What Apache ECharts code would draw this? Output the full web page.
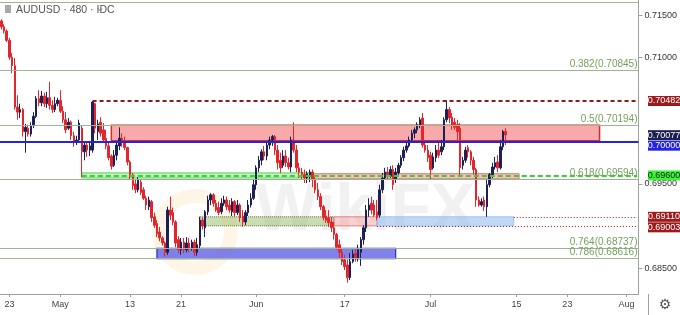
<!DOCTYPE html>
<html><head><meta charset="utf-8">
<script src="https://cdn.jsdelivr.net/npm/echarts@6/dist/echarts.min.js"></script>
<style>html,body{margin:0;padding:0;background:#fff;}#c{width:680px;height:315px;}</style>
</head><body><div id="c"></div>
<script>
// AUDUSD 8h candles (Apr 22 - Jul 12, 2019)
const opens = [
.7143,.7136,.7131,.7120,.7100,.7090,.7041,.7035,.7038,.7012,
.7016,.7009,.7019,.7030,.7051,.7046,.7054,.7045,.7052,.7043,
.7038,.7045,.7049,.7036,.7026,.7016,.7023,.7007,.6999,.7002,
.7016,.6988,.6996,.6990,.6990,.7045,.7012,.7023,.7014,.7004,
.6995,.6983,.6972,.6984,.6995,.7004,.7001,.6993,.6976,.6961,
.6950,.6943,.6952,.6943,.6933,.6923,.6929,.6911,.6903,.6893,
.6886,.6880,.6869,.6919,.6916,.6905,.6884,.6872,.6881,.6872,
.6880,.6874,.6881,.6869,.6877,.6907,.6898,.6917,.6931,.6937,
.6927,.6922,.6917,.6927,.6931,.6925,.6917,.6929,.6916,.6925,
.6912,.6905,.6916,.6925,.6933,.6949,.6969,.6978,.6988,.6983,
.6996,.7002,.7006,.6990,.6978,.6972,.6983,.6975,.6970,.7002,
.6990,.6969,.6964,.6961,.6957,.6959,.6964,.6955,.6943,.6935,
.6923,.6912,.6910,.6905,.6898,.6890,.6878,.6869,.6860,.6854,
.6839,.6858,.6868,.6862,.6869,.6884,.6898,.6919,.6927,.6925,
.6917,.6913,.6943,.6957,.6964,.6959,.6967,.6955,.6963,.6972,
.6981,.6990,.6995,.7002,.7010,.7014,.7020,.7028,.6996,.6990,
.6984,.6969,.6981,.6990,.6988,.6994,.7026,.7038,.7029,.7023,
.7020,.7016,.6972,.6978,.6993,.6988,.6978,.6967,.6931,.6925,
.6931,.6923,.6949,.6961,.6970,.6976,.6969,.6994,.7012];
const closes = [
.7136,.7131,.7120,.7100,.7090,.7041,.7035,.7038,.7012,.7017,
.7009,.7019,.7030,.7051,.7046,.7054,.7045,.7052,.7043,.7038,
.7045,.7049,.7036,.7026,.7014,.7023,.7007,.6999,.7002,.7022,
.6988,.6996,.6990,.6995,.7047,.7016,.7021,.7010,.7002,.6995,
.6981,.6971,.6984,.6996,.7004,.6999,.6993,.6976,.6961,.6948,
.6943,.6955,.6940,.6933,.6925,.6931,.6910,.6901,.6891,.6886,
.6880,.6869,.6919,.6913,.6905,.6880,.6872,.6881,.6872,.6880,
.6874,.6881,.6869,.6878,.6907,.6900,.6917,.6931,.6937,.6927,
.6919,.6916,.6927,.6931,.6923,.6919,.6929,.6916,.6925,.6910,
.6905,.6916,.6925,.6933,.6949,.6969,.6978,.6988,.6983,.6996,
.7002,.7006,.6990,.6975,.6969,.6983,.6975,.6970,.7002,.6990,
.6969,.6964,.6961,.6957,.6962,.6964,.6955,.6943,.6935,.6923,
.6910,.6907,.6904,.6898,.6890,.6875,.6869,.6858,.6852,.6839,
.6858,.6867,.6862,.6872,.6884,.6898,.6919,.6925,.6919,.6913,
.6910,.6943,.6957,.6964,.6961,.6967,.6949,.6964,.6972,.6981,
.6990,.6995,.7002,.7010,.7014,.7020,.7026,.6996,.6990,.6981,
.6967,.6982,.6990,.6984,.6994,.7026,.7038,.7028,.7020,.7017,
.7012,.6969,.6978,.6990,.6988,.6978,.6967,.6931,.6925,.6929,
.6923,.6949,.6961,.6970,.6975,.6969,.6994,.7012,.7008];
const lows = [
.7133,.7128,.7118,.7097,.7081,.7038,.7026,.7028,.7006,.6987,
.7006,.7006,.7016,.7028,.7042,.7042,.7041,.7040,.7038,.7034,
.7035,.7042,.7034,.7022,.7010,.7014,.7002,.6994,.6996,.7001,
.6958,.6978,.6982,.6983,.6987,.7010,.7002,.7006,.6999,.6991,
.6978,.6967,.6970,.6978,.6990,.6994,.6990,.6972,.6955,.6943,
.6939,.6940,.6937,.6931,.6919,.6919,.6905,.6898,.6887,.6882,
.6877,.6864,.6866,.6907,.6901,.6875,.6868,.6866,.6868,.6869,
.6869,.6871,.6864,.6865,.6874,.6896,.6887,.6913,.6925,.6923,
.6917,.6913,.6914,.6924,.6919,.6916,.6912,.6911,.6913,.6905,
.6899,.6901,.6912,.6922,.6931,.6943,.6964,.6972,.6978,.6978,
.6991,.6995,.6984,.6967,.6963,.6969,.6970,.6967,.6964,.6987,
.6964,.6957,.6955,.6951,.6951,.6952,.6946,.6939,.6931,.6919,
.6907,.6904,.6899,.6893,.6884,.6872,.6862,.6854,.6848,.6833,
.6836,.6856,.6858,.6858,.6853,.6878,.6893,.6911,.6914,.6911,
.6907,.6910,.6939,.6955,.6955,.6957,.6943,.6951,.6961,.6969,
.6977,.6987,.6993,.6999,.7004,.7010,.7016,.6993,.6987,.6976,
.6955,.6967,.6976,.6981,.6984,.6990,.7023,.7022,.7014,.7014,
.7002,.6958,.6967,.6975,.6981,.6972,.6961,.6923,.6923,.6923,
.6918,.6911,.6946,.6957,.6967,.6964,.6967,.6990,.6996];
const highs = [
.7145,.7139,.7133,.7123,.7105,.7099,.7055,.7045,.7040,.7021,
.7020,.7023,.7035,.7054,.7061,.7060,.7058,.7059,.7071,.7049,
.7053,.7052,.7061,.7042,.7035,.7028,.7025,.7012,.7007,.7026,
.7019,.7000,.7000,.6999,.7048,.7046,.7026,.7029,.7022,.7014,
.6999,.6985,.6990,.6999,.7017,.7010,.7006,.6994,.6978,.6963,
.6955,.6958,.6955,.6946,.6936,.6935,.6931,.6916,.6907,.6899,
.6888,.6882,.6923,.6935,.6922,.6907,.6888,.6886,.6886,.6887,
.6886,.6884,.6884,.6886,.6911,.6910,.6919,.6936,.6939,.6939,
.6931,.6929,.6933,.6936,.6935,.6931,.6933,.6931,.6931,.6927,
.6919,.6919,.6931,.6939,.6955,.6972,.6983,.6991,.6995,.7000,
.7006,.7008,.7008,.6996,.6987,.6990,.6990,.6981,.7006,.7023,
.6996,.6975,.6969,.6967,.6965,.6967,.6967,.6958,.6951,.6939,
.6925,.6919,.6919,.6911,.6905,.6892,.6884,.6874,.6866,.6860,
.6868,.6872,.6874,.6878,.6887,.6901,.6925,.6933,.6935,.6931,
.6931,.6949,.6963,.6969,.6970,.6971,.6972,.6969,.6975,.6984,
.6994,.7000,.7006,.7014,.7017,.7023,.7029,.7034,.6999,.6996,
.6988,.6987,.6996,.6999,.7002,.7029,.7049,.7041,.7034,.7028,
.7026,.7022,.6982,.6994,.6996,.6990,.6982,.6969,.6935,.6933,
.6935,.6955,.6963,.6975,.6982,.6984,.7002,.7014,.7016];

// x-axis tick labels (first bar of the date)
const tickDates = ['2019-04-23','2019-05-01','2019-05-13','2019-05-21','2019-06-02','2019-06-17','2019-07-01','2019-07-15','2019-07-23','2019-08-01'];
const tickTexts = ['23','May','13','21','Jun','17','Jul','15','23','Aug'];
// y-axis tick labels that are visible
const yTickValues = [0.715, 0.710, 0.695, 0.685];
// fibonacci levels
const fibLevels = [0.71655, 0.70845, 0.70194, 0.6956, 0.68737, 0.68616];
const fibLabels = ['', '0.382(0.70845)', '0.5(0.70194)', '0.618(0.69594)', '0.764(0.68737)', '0.786(0.68616)'];
// price tags on the right
const tagValues = [0.70482, 0.70077, 0.70000, 0.69600, 0.69110, 0.69003];
const tagBg = ['#9c1a1c', '#1d1f4e', '#2222e2', '#3ff03f', '#9c1a1c', '#9c1a1c'];
const tagFg = ['#fff', '#fff', '#fff', '#0b2a0b', '#fff', '#fff'];

// bar calendar: Sunday 1 bar, Mon-Fri 3 bars of 8 hours
const NBARS = 238;
const categories = [];
let d = new Date(Date.UTC(2019, 3, 22));
while (categories.length < NBARS) {
  const wd = d.getUTCDay();
  const ds = d.toISOString().slice(0, 10);
  if (wd === 0) categories.push(ds + ' 16:00');
  else if (wd !== 6) categories.push(ds + ' 00:00', ds + ' 08:00', ds + ' 16:00');
  d = new Date(d.getTime() + 86400000);
}
categories.length = NBARS;
const tickAt = {};
tickDates.forEach((td, k) => {
  const idx = categories.findIndex(c => c.slice(0, 10) === td);
  if (idx >= 0) tickAt[idx] = tickTexts[k];
});
const isTick = (i) => tickAt[i] !== undefined;

const ohlc = opens.map((o, i) => [o, closes[i], lows[i], highs[i]]);
const LAST = NBARS - 1;

const fibLines = fibLevels.map((v, k) => ({
  yAxis: v,
  lineStyle: { color: '#9db592', width: 1.2, type: 'solid' },
  label: { show: !!fibLabels[k], formatter: fibLabels[k], position: 'insideEndTop', color: '#74a05c', fontSize: 10, distance: 1, fontFamily: 'Liberation Sans' }
}));

const chart = echarts.init(document.getElementById('c'), null, { renderer: 'canvas' });
chart.setOption({
  animation: false,
  backgroundColor: '#ffffff',
  grid: { left: 0, right: 32, top: 0, bottom: 21, containLabel: false },
  xAxis: {
    type: 'category', data: categories, boundaryGap: true,
    axisLine: { lineStyle: { color: '#a0a0a0' } },
    axisTick: { show: true, alignWithLabel: true, interval: (i) => isTick(i), length: 3, lineStyle: { color: '#a0a0a0' } },
    axisLabel: { interval: (i) => isTick(i), formatter: (v, i) => tickAt[i] || '', fontSize: 9, color: '#444', margin: 6, fontFamily: 'Liberation Sans' },
    splitLine: { show: false }
  },
  yAxis: {
    type: 'value', position: 'right', min: 0.68196, max: 0.71678,
    axisLine: { show: true, lineStyle: { color: '#a0a0a0' } },
    splitLine: { show: false },
    axisTick: { show: true, customValues: yTickValues, length: 4, lineStyle: { color: '#a0a0a0' } },
    axisLabel: { customValues: yTickValues, formatter: (v) => v.toFixed(5), fontSize: 9, color: '#333', margin: 6, fontFamily: 'Liberation Sans' }
  },
  series: [{
    type: 'candlestick',
    data: ohlc,
    barWidth: 2,
    z: 3,
    itemStyle: { color: '#1d1f55', color0: '#e4262c', borderColor: '#1d1f55', borderColor0: '#e4262c', borderWidth: 1 },
    markArea: {
      silent: true,
      precision: 6,
      data: [
        [{ xAxis: 41, yAxis: 0.70194, itemStyle: { color: 'rgba(242,100,100,0.55)', borderColor: '#e02828', borderWidth: 1.5 } }, { xAxis: 223, yAxis: 0.70012 }],
        [{ xAxis: 30, yAxis: 0.6963, itemStyle: { color: 'rgba(120,230,110,0.45)', borderColor: '#5ccc5c', borderWidth: 1 } }, { xAxis: 116, yAxis: 0.6957 }],
        [{ xAxis: 116, yAxis: 0.6962, itemStyle: { color: 'rgba(240,120,120,0.45)', borderColor: '#e46a6a', borderWidth: 1 } }, { xAxis: 193, yAxis: 0.6956 }],
        [{ xAxis: 74, yAxis: 0.6911, itemStyle: { color: 'rgba(150,185,100,0.5)', borderColor: '#5d6a35', borderWidth: 1, borderType: 'dotted' } }, { xAxis: 124, yAxis: 0.69003 }],
        [{ xAxis: 124, yAxis: 0.6911, itemStyle: { color: 'rgba(240,150,150,0.45)', borderColor: '#e08080', borderWidth: 1 } }, { xAxis: 140, yAxis: 0.69003 }],
        [{ xAxis: 140, yAxis: 0.6911, itemStyle: { color: 'rgba(150,190,240,0.6)', borderColor: '#a0c2ee', borderWidth: 1 } }, { xAxis: 191, yAxis: 0.69003 }],
        [{ xAxis: 58, yAxis: 0.68737, itemStyle: { color: 'rgba(80,80,232,0.72)', borderColor: '#2b2bc9', borderWidth: 1.2 } }, { xAxis: 147, yAxis: 0.68616 }]
      ]
    },
    markLine: {
      silent: true, symbol: ['none', 'none'], animation: false, precision: 6,
      data: fibLines.concat([
        { yAxis: 0.70000, lineStyle: { color: '#2323e2', width: 2, type: 'solid' }, label: { show: false } },
        [{ xAxis: 34, yAxis: 0.70482, lineStyle: { color: '#8e1a1a', width: 2, type: [4, 3] }, label: { show: false } }, { xAxis: LAST, yAxis: 0.70482 }],
        [{ xAxis: 30, yAxis: 0.69600, lineStyle: { color: '#34d234', width: 2, type: [5, 3] }, label: { show: false } }, { xAxis: LAST, yAxis: 0.69600 }],
        [{ xAxis: 191, yAxis: 0.69110, lineStyle: { color: '#a01818', width: 1, type: [1, 2] }, label: { show: false } }, { xAxis: LAST, yAxis: 0.69110 }],
        [{ xAxis: 140, yAxis: 0.69003, lineStyle: { color: '#a01818', width: 1, type: [1, 2] }, label: { show: false } }, { xAxis: LAST, yAxis: 0.69003 }]
      ])
    }
  }]
});

// overlays: price tags, title, watermark, gear
const g = [];
let prevY = -100;
tagValues.forEach((v, k) => {
  let y = chart.convertToPixel({ yAxisIndex: 0 }, v);
  if (y < prevY + 10.5) y = prevY + 10.5;
  prevY = y;
  g.push({ type: 'rect', z: 100, shape: { x: 648, y: y - 5, width: 32, height: 10 }, style: { fill: tagBg[k] } });
  g.push({ type: 'text', z: 101, x: 664, y: y, style: { text: v.toFixed(5), fill: tagFg[k], fontSize: 9, fontFamily: 'Liberation Sans', align: 'center', verticalAlign: 'middle' } });
});
g.push({ type: 'line', z: 100, shape: { x1: 648.5, y1: 294, x2: 648.5, y2: 315 }, style: { stroke: '#a0a0a0', lineWidth: 1 } });
g.push({ type: 'text', z: 100, x: 665, y: 305, style: { text: '⚙', fill: '#555', fontSize: 14, fontFamily: 'DejaVu Sans', align: 'center', verticalAlign: 'middle' } });
g.push({ type: 'rect', z: 100, shape: { x: 5, y: 5, width: 6, height: 8 }, style: { fill: '#a8a8a8' } });
g.push({ type: 'text', z: 100, x: 16, y: 10, style: { text: 'AUDUSD · 480 · IDC', fill: '#555', fontSize: 10.5, fontFamily: 'Liberation Sans', verticalAlign: 'middle' } });
g.push({ type: 'polyline', z: 100, shape: { points: [[98, 8.5], [100, 10.5], [102, 8.5]] }, style: { stroke: '#666', lineWidth: 1, fill: null } });
g.push({ type: 'circle', z: 0, shape: { cx: 195, cy: 232, r: 36 }, style: { fill: null, stroke: 'rgba(245,205,120,0.18)', lineWidth: 14 } });
g.push({ type: 'text', z: 0, x: 365, y: 212, style: { text: 'WikiFX', fill: 'rgba(120,120,120,0.10)', fontSize: 66, fontWeight: 'bold', fontFamily: 'Liberation Sans', align: 'center', verticalAlign: 'middle' } });
chart.setOption({ graphic: g });
</script></body></html>
